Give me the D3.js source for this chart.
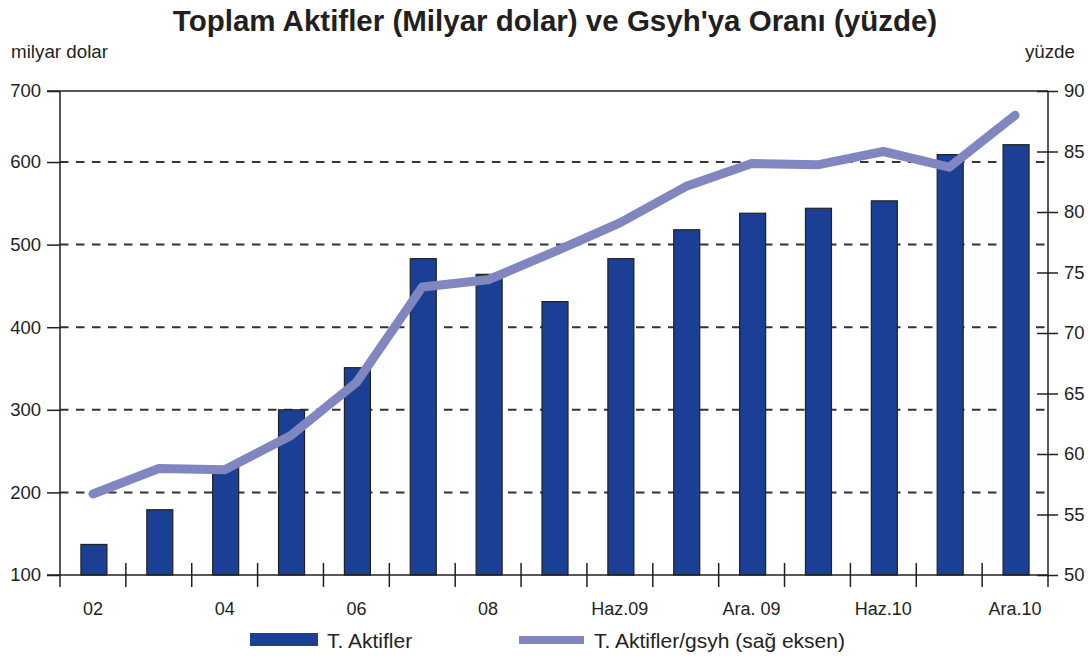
<!DOCTYPE html>
<html>
<head>
<meta charset="utf-8">
<script src="https://cdn.jsdelivr.net/npm/d3@7"></script>
<style>
  body { margin: 0; background: #fff; }
  svg { font-family: "Liberation Sans", Arial, sans-serif; }
</style>
</head>
<body>
<div id="chart"></div>
<script>
// data
const categories = ["02", "03", "04", "05", "06", "07", "08", "Mar.09", "Haz.09", "Eyl.09",
                    "Ara. 09", "Mar.10", "Haz.10", "Eyl.10", "Ara.10"];
const assets = [137, 179, 230, 300, 351, 483, 464, 431, 483, 518, 538, 544, 553, 609, 621];
const ratio = [56.7, 58.8, 58.7, 61.5, 65.9, 73.8, 74.4, 76.7, 79.1, 82.1, 84.0, 83.9, 85.0, 83.7, 88.0];
const leftTicks = [100, 200, 300, 400, 500, 600];
const rightTicks = [50, 55, 60, 65, 70, 75, 80, 85, 90];

const width = 1089, height = 657;
const margin = {top: 91, right: 41, bottom: 82, left: 60};
const innerW = width - margin.left - margin.right;
const innerH = height - margin.top - margin.bottom;
const ink = "#231f20";
const barColor = "#1b3f95";
const lineColor = "#7f86c0";

// the left scale tops out a bit under 700 in the original, the top is still labelled 700
const leftTop = 686;

const x = d3.scaleBand().domain(categories).range([0, innerW]).paddingInner(0).paddingOuter(0);
const yL = d3.scaleLinear().domain([100, leftTop]).range([innerH, 0]);
const yR = d3.scaleLinear().domain([50, 90]).range([innerH, 0]);

const svg = d3.select("#chart").append("svg")
    .attr("width", width)
    .attr("height", height);

svg.append("text")
    .attr("x", 555).attr("y", 31)
    .attr("text-anchor", "middle")
    .attr("font-size", 29.5)
    .attr("font-weight", "bold")
    .attr("fill", ink)
    .text("Toplam Aktifler (Milyar dolar) ve Gsyh'ya Oranı (yüzde)");

svg.append("text")
    .attr("x", 11).attr("y", 58)
    .attr("font-size", 18.8)
    .attr("fill", ink)
    .text("milyar dolar");

svg.append("text")
    .attr("x", 1075).attr("y", 58)
    .attr("text-anchor", "end")
    .attr("font-size", 18.8)
    .attr("fill", ink)
    .text("yüzde");

const g = svg.append("g").attr("transform", `translate(${margin.left},${margin.top})`);

// dashed gridlines
g.append("g")
  .selectAll("line")
  .data(leftTicks.slice(1))
  .join("line")
    .attr("x1", 0).attr("x2", innerW)
    .attr("y1", d => yL(d)).attr("y2", d => yL(d))
    .attr("stroke", "#333")
    .attr("stroke-width", 2)
    .attr("stroke-dasharray", "8.5,7.5");

// bars
const bw = 26;
g.append("g")
  .selectAll("rect")
  .data(assets)
  .join("rect")
    .attr("x", (d, i) => x(categories[i]) + x.bandwidth() / 2 - bw / 2 + 1)
    .attr("y", d => yL(d))
    .attr("width", bw)
    .attr("height", d => yL(100) - yL(d))
    .attr("fill", barColor)
    .attr("stroke", "#222")
    .attr("stroke-width", 1.2);

// frame: top line
g.append("line")
    .attr("x1", -13).attr("x2", innerW).attr("y1", 0).attr("y2", 0)
    .attr("stroke", ink).attr("stroke-width", 1.5);

// left axis
const leftAxis = g.append("g")
    .call(d3.axisLeft(yL)
      .tickValues(leftTicks.concat([leftTop]))
      .tickSize(13)
      .tickPadding(6)
      .tickFormat(d => d === leftTop ? "700" : d));
leftAxis.selectAll("text").attr("font-size", 18.5).attr("fill", ink).attr("font-family", "Liberation Sans, Arial, sans-serif");
leftAxis.selectAll("line").attr("stroke", ink).attr("stroke-width", 1.5);
leftAxis.select(".domain").remove();
leftAxis.append("line").attr("y1", 0).attr("y2", innerH + 12).attr("stroke", ink).attr("stroke-width", 1.5);

// right axis, ticks cross the line
const rightAxis = g.append("g")
    .attr("transform", `translate(${innerW},0)`)
    .call(d3.axisRight(yR).tickValues(rightTicks).tickSize(10).tickPadding(6));
rightAxis.selectAll("text").attr("font-size", 18.5).attr("fill", ink).attr("font-family", "Liberation Sans, Arial, sans-serif");
rightAxis.selectAll(".tick line").attr("x1", -11).attr("stroke", ink).attr("stroke-width", 1.5);
rightAxis.select(".domain").remove();
rightAxis.append("line").attr("y1", 0).attr("y2", innerH + 12).attr("stroke", ink).attr("stroke-width", 1.5);

// bottom axis: ticks on category boundaries, labels on every other category
const bottom = g.append("g").attr("transform", `translate(0,${innerH})`);
bottom.append("line").attr("x1", -13).attr("x2", innerW).attr("stroke", ink).attr("stroke-width", 1.5);
bottom.selectAll("line.tk")
  .data(categories.slice(1))
  .join("line")
    .attr("class", "tk")
    .attr("x1", d => x(d)).attr("x2", d => x(d))
    .attr("y1", -12).attr("y2", 12)
    .attr("stroke", ink).attr("stroke-width", 1.5);
bottom.selectAll("text")
  .data(categories.filter((d, i) => i % 2 === 0))
  .join("text")
    .attr("x", d => x(d) + x.bandwidth() / 2)
    .attr("y", 40)
    .attr("text-anchor", "middle")
    .attr("font-size", 18)
    .attr("fill", ink)
    .text(d => d);

// ratio line (right axis)
const line = d3.line()
    .x((d, i) => x(categories[i]) + x.bandwidth() / 2)
    .y(d => yR(d));
g.append("path")
    .datum(ratio)
    .attr("d", line)
    .attr("fill", "none")
    .attr("stroke", lineColor)
    .attr("stroke-width", 9)
    .attr("stroke-linecap", "round")
    .attr("stroke-linejoin", "round");

// legend
const lg = svg.append("g").attr("font-size", 21).attr("fill", ink);
lg.append("rect").attr("x", 250).attr("y", 633).attr("width", 68).attr("height", 13).attr("fill", barColor);
lg.append("text").attr("x", 327).attr("y", 648).text("T. Aktifler");
lg.append("line").attr("x1", 519).attr("x2", 584).attr("y1", 640).attr("y2", 640)
    .attr("stroke", lineColor).attr("stroke-width", 8);
lg.append("text").attr("x", 594).attr("y", 648).text("T. Aktifler/gsyh (sağ eksen)");
</script>
</body>
</html>
